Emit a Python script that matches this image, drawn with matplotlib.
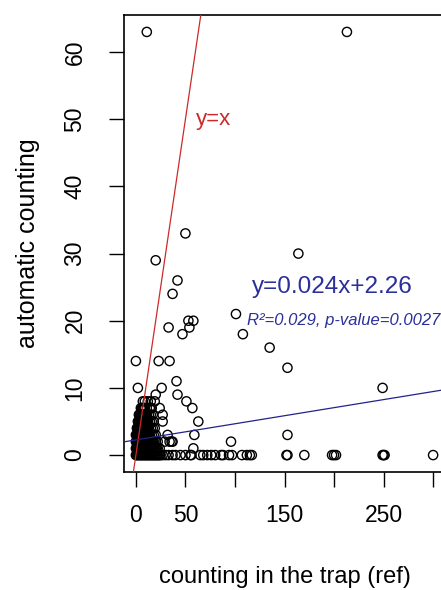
import numpy as np
import matplotlib.pyplot as plt

plt.rcParams['font.family'] = ['Liberation Sans', 'DejaVu Sans']

# points (trap count, automatic count)
# scattered points away from the origin
spread_x = [11, 213, 50, 20, 164, 42, 37, 101, 53, 58, 54, 33, 47, 108, 135,
            0, 23, 34, 153, 2, 26, 41, 42, 51, 57, 63, 27, 27, 20, 19, 15, 24,
            59, 96, 153, 249, 29, 36, 32, 34, 37, 58]
spread_y = [63, 63, 33, 29, 30, 26, 24, 21, 20, 20, 19, 19, 18, 18, 16,
            14, 14, 14, 13, 10, 10, 11, 9, 8, 7, 5, 5, 6, 9, 8, 8, 7,
            3, 2, 3, 10, 2, 2, 3, 2, 2, 1]

# automatic counting gave zero
zero_x = [0, 1, 2, 3, 4, 5, 6, 7, 8, 9, 10, 11, 12, 13, 14, 15, 16, 17, 18, 19,
          20, 21, 22, 23, 24, 25, 27, 30, 33, 37, 40, 45, 50, 55, 56, 65, 68, 72,
          76, 80, 86, 88, 94, 97, 107, 112, 115, 117, 152, 153, 170, 198, 200,
          202, 249, 250, 251, 300]

# dense cluster near the origin, one list per automatic count
row_1 = [0, 1, 2, 3, 4, 5, 6, 7, 8, 9, 10, 11, 12, 13, 14, 15, 16, 17, 18, 19,
         20, 21, 22, 24]
row_2 = [0, 1, 2, 3, 4, 5, 6, 7, 8, 9, 10, 11, 12, 13, 14, 15, 16, 17, 18, 20, 22]
row_3 = [0, 1, 2, 3, 4, 5, 6, 7, 8, 9, 10, 11, 12, 13, 14, 16, 18, 20]
row_4 = [1, 2, 3, 4, 5, 6, 7, 8, 9, 10, 11, 12, 13, 15, 17, 19]
row_5 = [2, 3, 4, 5, 6, 7, 8, 9, 10, 11, 12, 14, 16, 18]
row_6 = [3, 4, 5, 6, 7, 8, 9, 10, 11, 13, 15, 17]
row_7 = [5, 6, 7, 8, 9, 11, 14, 16]
row_8 = [7, 9, 12]

slope, intercept = 0.024, 2.26

rows = [row_1, row_2, row_3, row_4, row_5, row_6, row_7, row_8]
x = list(spread_x) + list(zero_x)
y = list(spread_y) + [0] * len(zero_x)
for k, r in enumerate(rows):
    x += r
    y += [k + 1] * len(r)

fig = plt.figure(figsize=(4.41, 5.90), dpi=100)
ax = fig.add_axes([124 / 441, 118 / 590, 321 / 441, 457 / 590])

ax.scatter(x, y, s=44, facecolors='none', edgecolors='black', linewidths=1.0, zorder=2)
ax.axline((0, 0), slope=1, color='#cc2a2a', lw=0.9, zorder=3)
ax.axline((0, intercept), slope=slope, color='#22228a', lw=0.9, zorder=3)

ax.text(78, 50, 'y=x', color='#cc2a2a', fontsize=16, ha='center', va='center')
ax.text(198, 25, 'y={}x+{}'.format(slope, intercept), color='#2b2f9a',
        fontsize=17.5, ha='center', va='center')
ax.text(210, 20, 'R²=0.029, p-value=0.0027', color='#2b2f9a', fontsize=12,
        style='italic', ha='center', va='center')

ax.set_xlim(-12, 312)
ax.set_ylim(-2.52, 65.52)
ax.set_xticks([0, 50, 100, 150, 200, 250, 300])
ax.set_xticklabels(['0', '50', '', '150', '', '250', ''])
ax.set_yticks([0, 10, 20, 30, 40, 50, 60])
for t in ax.get_yticklabels():
    t.set_rotation(90)
    t.set_va('center')
ax.tick_params(axis='both', length=11, width=1.0, labelsize=16.5, color='black')
ax.tick_params(axis='x', pad=12)
ax.tick_params(axis='y', pad=16)
for s in ax.spines.values():
    s.set_linewidth(1.2)

ax.set_xlabel('counting in the trap (ref)', fontsize=17, labelpad=28)
ax.set_ylabel('automatic counting', fontsize=18, labelpad=17)

fig.savefig('out.png', dpi=100)
